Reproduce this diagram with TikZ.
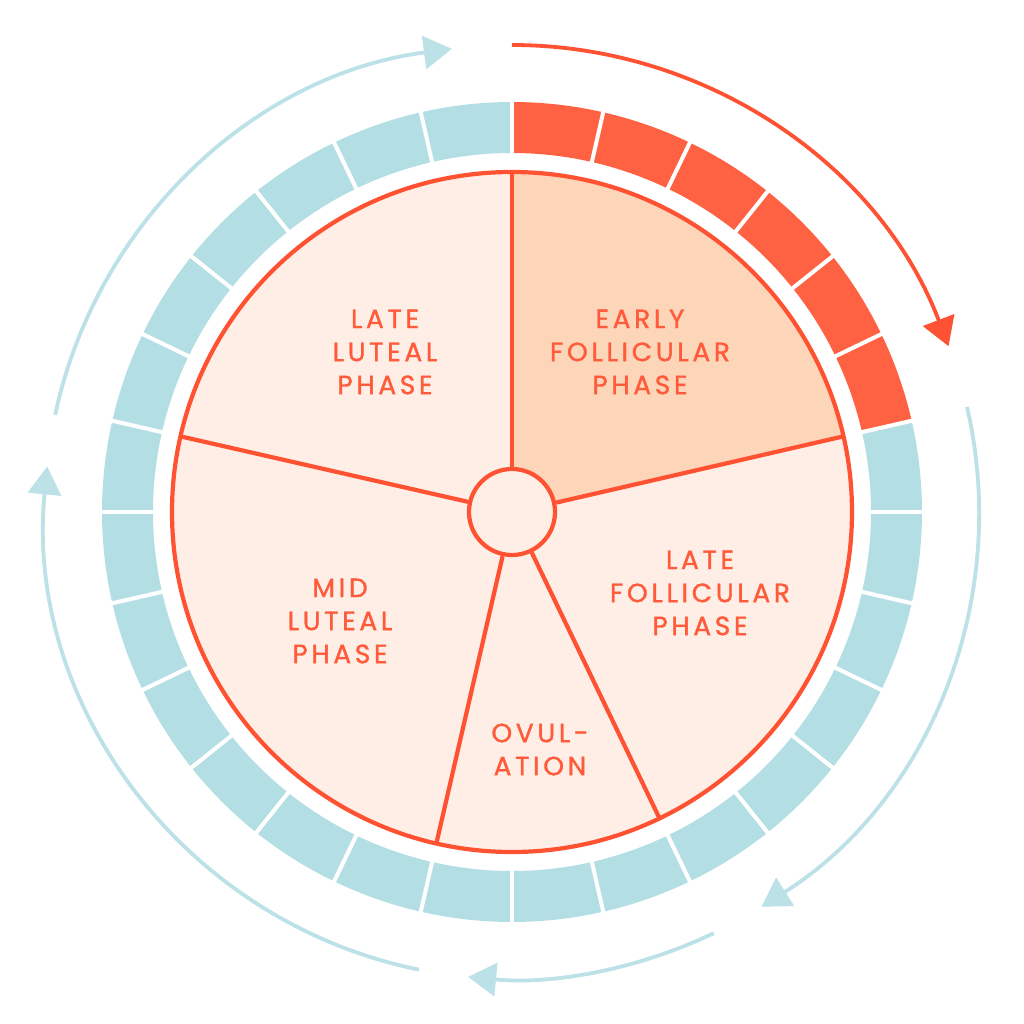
\documentclass[tikz,border=0pt]{standalone}
\usepackage{fontspec}
\setmainfont{Poppins}[LetterSpace=14,FakeBold=1.2]
\usetikzlibrary{arrows.meta}
\definecolor{segred}{HTML}{FF6242}
\definecolor{linered}{HTML}{FF5232}
\definecolor{txtred}{HTML}{FF5A3A}
\definecolor{segblue}{HTML}{B3DFE4}
\definecolor{arrblue}{HTML}{BCE1E7}
\definecolor{peach}{HTML}{FEEEE5}
\definecolor{peachdark}{HTML}{FDD5B9}
\tikzset{
  lbl/.style={text=txtred, align=center, inner sep=0pt, font=\fontsize{7.5}{9.4}\selectfont},
  phaseline/.style={draw=linered, line width=0.042cm},
  cyclearrow/.style={line width=0.038cm, -{Triangle[length=0.28cm, width=0.33cm]}},
}
\begin{document}
\begin{tikzpicture}[x=0.01cm,y=0.01cm]
\useasboundingbox (-512,-512) rectangle (512,512);
% day ring
\foreach \k in {0,...,5} {
  \pgfmathsetmacro\a{90-\k*360/28}
  \pgfmathsetmacro\b{90-(\k+1)*360/28}
  \fill[segred] (\a:410) arc[start angle=\a, end angle=\b, radius=410] -- (\b:359) arc[start angle=\b, end angle=\a, radius=359] -- cycle;
}
\foreach \k in {6,...,27} {
  \pgfmathsetmacro\a{90-\k*360/28}
  \pgfmathsetmacro\b{90-(\k+1)*360/28}
  \fill[segblue] (\a:410) arc[start angle=\a, end angle=\b, radius=410] -- (\b:359) arc[start angle=\b, end angle=\a, radius=359] -- cycle;
}
\foreach \k in {0,...,27} \draw[white, line width=0.04cm] ({90-\k*360/28}:350) -- ({90-\k*360/28}:420);
% pie
\fill[peach] (0,0) circle[radius=340];
\fill[peachdark] (0,0) -- (90:340) arc[start angle=90, end angle=12.857, radius=340] -- cycle;
\draw[phaseline] (0,0) circle[radius=340];
\node[circle, phaseline, fill=peach, minimum size=0.86cm, inner sep=0pt] (hub) at (0,0) {};
\foreach \a in {90,12.857,-64.286,-102.857,167.143} \draw[phaseline] (hub.\a) -- (\a:340);
% arrows
\draw[arrblue, cyclearrow] (168:467) arc[start angle=168, end angle=97.4, radius=467];
\draw[linered, cyclearrow] (90:467) arc[start angle=90, end angle=20.8, radius=467];
\draw[arrblue, cyclearrow] (13:467) arc[start angle=13, end angle=-57.7, radius=467];
\draw[arrblue, cyclearrow] (-64.4:467) arc[start angle=-64.4, end angle=-95.4, radius=467];
\draw[arrblue, cyclearrow] (-101.5:467) arc[start angle=-101.5, end angle=-185.6, radius=467];
% labels
\node[lbl] (ef) at (128,160) {EARLY\\FOLLICULAR\\PHASE};
\node[lbl] (ll) at (-127,160) {LATE\\LUTEAL\\PHASE};
\node[lbl] (lf) at (188,-81) {LATE\\FOLLICULAR\\PHASE};
\node[lbl] (ml) at (-172,-109) {MID\\LUTEAL\\PHASE};
\node[lbl] (ov) at (28,-237.5) {OVUL-\\ATION};
\end{tikzpicture}
\end{document}
